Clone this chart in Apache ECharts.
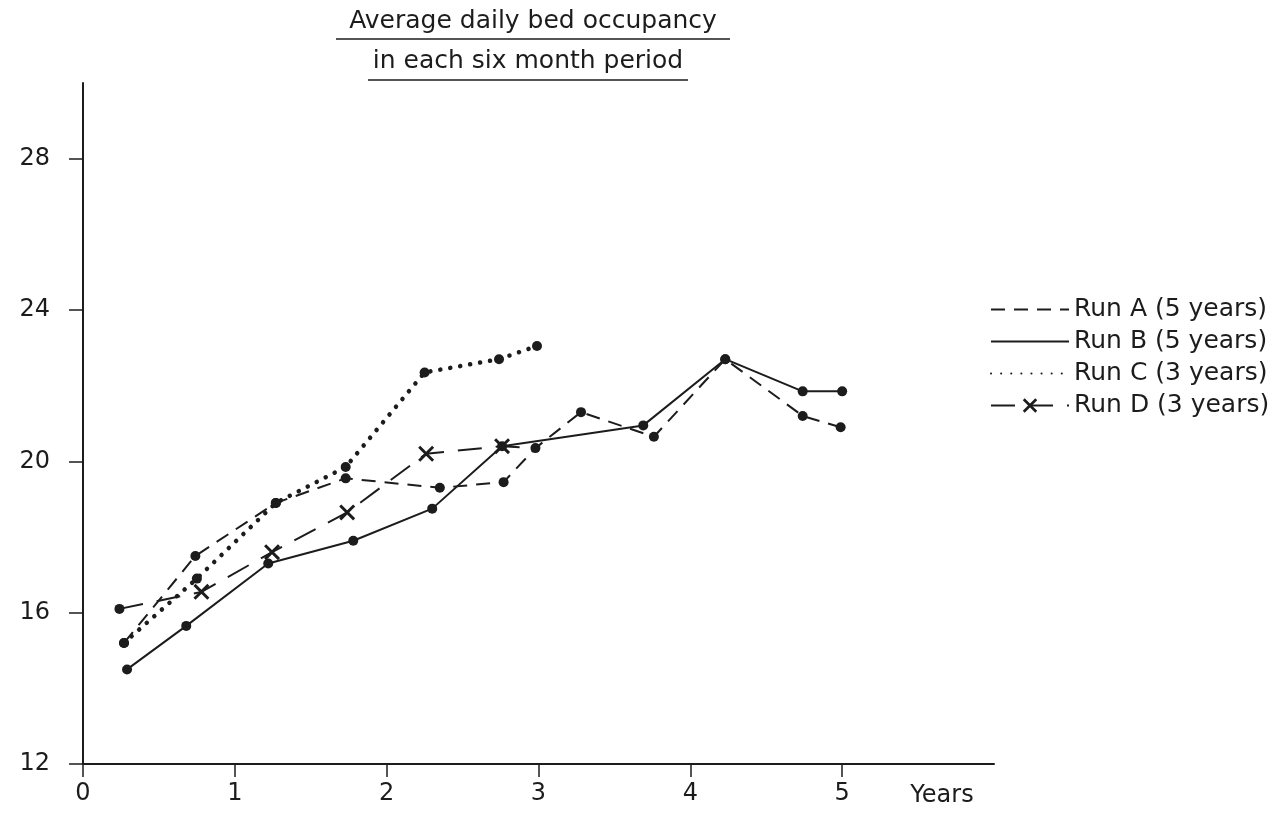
<!DOCTYPE html>
<html>
<head>
<meta charset="utf-8">
<script src="https://cdn.jsdelivr.net/npm/echarts@6/dist/echarts.min.js"></script>
<style>
  html, body { margin: 0; padding: 0; background: #fff; }
  #chart { width: 1286px; height: 817px; }
</style>
</head>
<body>
<div id="chart"></div>
<script>
// points: [years, average daily beds]
let runA = [[0.27, 15.2], [0.74, 17.5], [1.27, 18.9], [1.73, 19.55], [2.35, 19.3], [2.77, 19.45],
  [2.98, 20.35], [3.28, 21.3], [3.76, 20.65], [4.23, 22.7], [4.74, 21.2], [4.99, 20.9]]
let runB = [[0.29, 14.5], [0.68, 15.65], [1.22, 17.3], [1.78, 17.9], [2.30, 18.75], [2.76, 20.4],
  [3.69, 20.95], [4.23, 22.7], [4.74, 21.85], [5.0, 21.85]]
let runC = [[0.27, 15.2], [0.75, 16.9], [1.27, 18.9], [1.73, 19.85], [2.25, 22.35], [2.74, 22.7], [2.99, 23.05]]
let runD = [[0.24, 16.1], [0.78, 16.55], [1.245, 17.6], [1.74, 18.65], [2.26, 20.2], [2.76, 20.4], [2.98, 20.35]]

let runNames = ['Run A (5 years)', 'Run B (5 years)', 'Run C (3 years)', 'Run D (3 years)']
let xTicks = [0, 1, 2, 3, 4, 5]
let yTicks = [12, 16, 20, 24, 28]

let ink = '#1c1c1c'
let font = 'DejaVu Sans'
let cross = 'path://M0,1.3L1.3,0L10,8.7L8.7,10Z M8.7,0L10,1.3L1.3,10L0,8.7Z'

// run D: dot where it starts, crosses in between, ends on a dot of run A
let dData = runD.map((p, i) => {
  if (i == 0) return { value: p, symbol: 'circle', symbolSize: 10 }
  if (i == runD.length - 1) return { value: p, symbol: 'none' }
  return { value: p }
})

let chart = echarts.init(document.getElementById('chart'))

let option = {
  animation: false,
  backgroundColor: '#fff',
  grid: { left: 83, right: 292, top: 83, bottom: 53 },
  xAxis: {
    type: 'value',
    min: 0,
    max: 6,
    splitLine: { show: false },
    axisLine: { lineStyle: { color: ink, width: 2 } },
    axisTick: { show: true, length: 13, lineStyle: { color: ink, width: 1.5 }, customValues: xTicks },
    axisLabel: { color: ink, fontFamily: font, fontSize: 24, margin: 18, customValues: xTicks }
  },
  yAxis: {
    type: 'value',
    min: 12,
    max: 30,
    splitLine: { show: false },
    axisLine: { show: true, lineStyle: { color: ink, width: 2 } },
    axisTick: { show: true, length: 14, lineStyle: { color: ink, width: 1.5 }, customValues: yTicks },
    axisLabel: { color: ink, fontFamily: font, fontSize: 24, margin: 33, customValues: yTicks }
  },
  legend: {
    left: 990,
    top: 297,
    padding: 0,
    orient: 'vertical',
    itemWidth: 78,
    itemHeight: 18,
    itemGap: 7,
    textStyle: { color: ink, fontFamily: font, fontSize: 25 },
    data: [
      { name: runNames[0], itemStyle: { opacity: 0 } },
      { name: runNames[1], itemStyle: { opacity: 0 } },
      { name: runNames[2], itemStyle: { opacity: 0 } },
      { name: runNames[3] }
    ]
  },
  graphic: [
    { type: 'text', style: { text: 'Average daily bed occupancy', x: 533, y: 21, align: 'center', verticalAlign: 'middle', font: '25px "DejaVu Sans"', fill: ink } },
    { type: 'line', shape: { x1: 336, y1: 39, x2: 730, y2: 39 }, style: { stroke: ink, lineWidth: 1.5 } },
    { type: 'text', style: { text: 'in each six month period', x: 528, y: 61, align: 'center', verticalAlign: 'middle', font: '25px "DejaVu Sans"', fill: ink } },
    { type: 'line', shape: { x1: 368, y1: 80, x2: 688, y2: 80 }, style: { stroke: ink, lineWidth: 1.5 } },
    { type: 'text', style: { text: 'Years', x: 942, y: 796, align: 'center', verticalAlign: 'middle', font: '24px "DejaVu Sans"', fill: ink } }
  ],
  series: [
    {
      name: runNames[0],
      type: 'line',
      data: runA,
      symbol: 'circle',
      symbolSize: 10,
      itemStyle: { color: ink },
      lineStyle: { color: ink, width: 2, type: [14, 9] }
    },
    {
      name: runNames[1],
      type: 'line',
      data: runB,
      symbol: 'circle',
      symbolSize: 10,
      itemStyle: { color: ink },
      lineStyle: { color: ink, width: 2 }
    },
    {
      name: runNames[2],
      type: 'line',
      data: runC,
      symbol: 'circle',
      symbolSize: 10,
      itemStyle: { color: ink },
      lineStyle: { color: ink, width: 4.5, type: [0.1, 10], cap: 'round' }
    },
    {
      name: runNames[3],
      type: 'line',
      data: dData,
      symbol: cross,
      symbolSize: 16,
      itemStyle: { color: ink },
      lineStyle: { color: ink, width: 2, type: [24, 14] }
    }
  ]
}

chart.setOption(option)
</script>
</body>
</html>
